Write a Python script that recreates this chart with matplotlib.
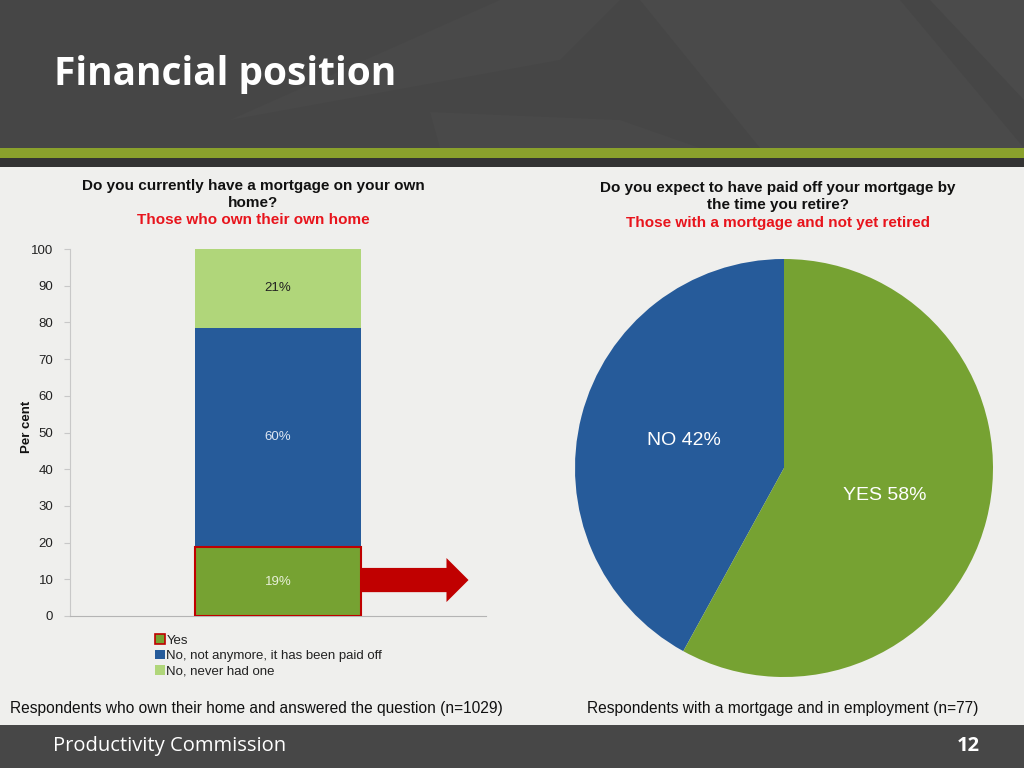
import matplotlib
matplotlib.use("Agg")
import matplotlib.pyplot as plt
from matplotlib.patches import Rectangle, Polygon, Patch

# ---- data ----
bar_categories = ["Yes", "No, not anymore, it has been paid off", "No, never had one"]
bar_values = [18.8, 59.7, 21.5]
bar_labels = ["19%", "60%", "21%"]
bar_colors = ["#76a232", "#265b9a", "#b0d67a"]
bar_label_colors = ["#e8f0d8", "#dde6f2", "#222222"]
y_ticks = [0, 10, 20, 30, 40, 50, 60, 70, 80, 90, 100]

pie_labels = ["NO 42%", "YES 58%"]
pie_values = [42, 58]
pie_colors = ["#265b9a", "#76a232"]

W, H = 1024, 768
fig = plt.figure(figsize=(W / 100, H / 100), dpi=100)
fig.patch.set_facecolor("#efefed")

def fx(px):
    return px / W

def fy(py):
    return 1 - py / H

SANS = ["Liberation Sans", "DejaVu Sans"]
OPEN = ["Open Sans", "DejaVu Sans"]

# ---- header / footer backgrounds ----
bg = fig.add_axes([0, 0, 1, 1], zorder=-10)
bg.set_xlim(0, W)
bg.set_ylim(H, 0)
bg.axis("off")
bg.add_patch(Rectangle((0, 0), W, 148, color="#464646", lw=0))
# subtle decorative shapes
bg.add_patch(Polygon([(500, 0), (620, 0), (560, 60), (230, 120)], closed=True, color="#494949", lw=0))
bg.add_patch(Polygon([(640, 0), (900, 0), (1024, 148), (760, 148)], closed=True, color="#4a4a4a", lw=0))
bg.add_patch(Polygon([(930, 0), (1024, 0), (1024, 100)], closed=True, color="#4b4b4b", lw=0))
bg.add_patch(Polygon([(430, 112), (620, 120), (700, 148), (440, 148)], closed=True, color="#494949", lw=0))
bg.add_patch(Rectangle((0, 148), W, 10, color="#8aa12c", lw=0))
bg.add_patch(Rectangle((0, 158), W, 9, color="#333333", lw=0))
bg.add_patch(Rectangle((0, 725), W, 43, color="#474747", lw=0))

fig.text(fx(54), fy(75), "Financial position", color="white", fontsize=28,
         fontweight="bold", family=OPEN, ha="left", va="center")
fig.text(fx(53), fy(746), "Productivity Commission", color="white", fontsize=14.5,
         family=OPEN, ha="left", va="center")
fig.text(fx(980), fy(746), "12", color="white", fontsize=14.5, fontweight="bold",
         family=OPEN, ha="right", va="center")

# ---- bar chart ----
ax = fig.add_axes([fx(70), fy(616), fx(486) - fx(70), fy(249) - fy(616)])
ax.set_facecolor("none")
bottom = 0
bar_w = 0.4
for i, (v, c) in enumerate(zip(bar_values, bar_colors)):
    if i == 0:
        ax.bar(0, v, bottom=bottom, width=bar_w, color=c, edgecolor="#c00000", linewidth=1.5, zorder=3)
    else:
        ax.bar(0, v, bottom=bottom, width=bar_w, color=c, linewidth=0, zorder=2)
    ax.text(0, bottom + v / 2, bar_labels[i], ha="center", va="center", fontsize=9.5,
            color=bar_label_colors[i], family=SANS, zorder=4)
    bottom += v

ax.set_xlim(-0.5, 0.5)
ax.set_ylim(0, 100)
ax.set_yticks(y_ticks)
ax.set_xticks([])
for s in ["top", "right"]:
    ax.spines[s].set_visible(False)
ax.spines["left"].set_color("#c8c8c8")
ax.spines["bottom"].set_color("#b4b4b4")
ax.tick_params(axis="y", length=4, color="#c8c8c8", labelsize=9.5, labelcolor="#222222", pad=8)
for lab in ax.get_yticklabels():
    lab.set_family(SANS)

# arrow
x0 = bar_w / 2
x_tip = 0.458
x_head = 0.405
yc = 9.8
body = 3.3
head = 6.0
ax.add_patch(Polygon([(x0, yc - body), (x_head, yc - body), (x_head, yc - head), (x_tip, yc),
                      (x_head, yc + head), (x_head, yc + body), (x0, yc + body)],
                     closed=True, color="#c00000", lw=0, clip_on=False, zorder=1))

fig.text(fx(27), fy(427), "Per cent", rotation=90, fontsize=9.5, fontweight="bold",
         family=SANS, ha="center", va="center", color="#111111")

handles = [Patch(facecolor=bar_colors[0], edgecolor="#c00000", linewidth=1.2),
           Patch(facecolor=bar_colors[1], edgecolor="none"),
           Patch(facecolor=bar_colors[2], edgecolor="none")]
leg = fig.legend(handles, bar_categories, loc="upper left", bbox_to_anchor=(fx(150), fy(629)),
                 frameon=False, handlelength=0.7, handleheight=0.7,
                 handletextpad=0.15, labelspacing=0.25, borderaxespad=0,
                 prop={"family": SANS, "size": 9.5})
for t in leg.get_texts():
    t.set_color("#222222")

fig.text(fx(253), fy(186), "Do you currently have a mortgage on your own", fontsize=11,
         fontweight="bold", family=SANS, ha="center", va="center", color="#111111")
fig.text(fx(253), fy(203), "home?", fontsize=11, fontweight="bold", family=SANS,
         ha="center", va="center", color="#111111")
fig.text(fx(253), fy(220), "Those who own their own home", fontsize=11, fontweight="bold",
         family=SANS, ha="center", va="center", color="#e8141c")

# ---- pie chart ----
pax = fig.add_axes([fx(575), fy(677), fx(993) - fx(575), fy(259) - fy(677)])
pax.set_facecolor("none")
pax.pie(pie_values, colors=pie_colors, startangle=90, counterclock=True,
        wedgeprops={"linewidth": 0})
pax.set_xlim(-1, 1)
pax.set_ylim(-1, 1)
pax.set_aspect("equal")
pax.text(-0.48, 0.13, pie_labels[0], color="white", fontsize=14, family=SANS,
         ha="center", va="center")
pax.text(0.48, -0.13, pie_labels[1], color="white", fontsize=14, family=SANS,
         ha="center", va="center")

fig.text(fx(778), fy(188), "Do you expect to have paid off your mortgage by", fontsize=11,
         fontweight="bold", family=SANS, ha="center", va="center", color="#111111")
fig.text(fx(778), fy(205), "the time you retire?", fontsize=11, fontweight="bold",
         family=SANS, ha="center", va="center", color="#111111")
fig.text(fx(778), fy(223), "Those with a mortgage and not yet retired", fontsize=11,
         fontweight="bold", family=SANS, ha="center", va="center", color="#e8141c")

# footnotes
fig.text(fx(10), fy(708), "Respondents who own their home and answered the question (n=1029)",
         fontsize=11.2, family=SANS, ha="left", va="center", color="#111111")
fig.text(fx(587), fy(708), "Respondents with a mortgage and in employment (n=77)",
         fontsize=11.2, family=SANS, ha="left", va="center", color="#111111")

fig.savefig("out.png", dpi=100, facecolor=fig.get_facecolor())
